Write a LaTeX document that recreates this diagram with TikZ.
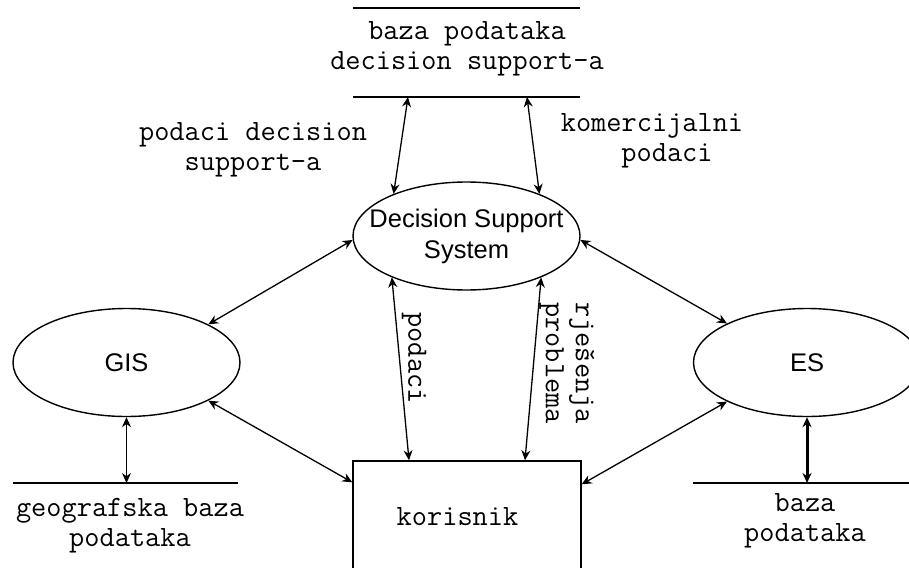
\documentclass[tikz,border=0pt]{standalone}
\usepackage{fontspec}
\setmainfont{Liberation Sans}
\usetikzlibrary{arrows.meta,shapes.geometric,calc}
\begin{document}
\begin{tikzpicture}[x=1pt,y=-1pt,
  lbl/.style={font=\ttfamily\fontsize{29.5}{30}\selectfont, align=center, inner sep=0pt},
  proc/.style={ellipse, draw, line width=1.4pt, minimum width=227pt, minimum height=108pt, inner xsep=-18pt, inner ysep=0pt, font=\fontsize{25.5}{31}\selectfont, align=center},
  conn/.style={line width=1.3pt, {Stealth[length=10pt,width=9pt]}-{Stealth[length=10pt,width=9pt]}},
  storeline/.style={line width=1.4pt}]
\useasboundingbox (0,0) rectangle (909,567);
\clip (0,0) rectangle (909,567);
% processes
\node[proc] (dss) at (466.5,236) {Decision Support\\System};
\node[proc] (gis) at (126.5,362.5) {GIS};
\node[proc] (es) at (807,362.5) {ES};
\node[draw, line width=1.4pt, minimum width=228pt, minimum height=112pt, inner sep=0pt,
      font=\ttfamily\fontsize{29.5}{30}\selectfont] (kor) at (467,517) {korisnik\hspace*{19pt}};
% data stores
\node[lbl] (dsdb) at (467,49) {baza podataka\\decision support-a};
\draw[storeline] (353,8) -- (580,8);
\draw[storeline] (353,97) -- (580,97);
\coordinate (dsdbL) at (408,97);
\coordinate (dsdbR) at (527,97);
\node[lbl] (gisdbt) at (130,526) {geografska baza\\podataka};
\draw[storeline] (13,483) -- (238,483);
\coordinate (gisdb) at (126.5,483);
\node[lbl] (esdbt) at (805,521) {baza\\podataka};
\draw[storeline] (693,483) -- (909,483);
\coordinate (esdb) at (807,483);
% connectors
\draw[conn] (dsdbL) -- (dss.150);
\draw[conn] (dsdbR) -- (dss.30);
\draw[conn] (dss.182) -- (gis.25);
\draw[conn] (dss.358) -- (es.154);
\draw[conn] (dss.209) -- ([xshift=-58pt]kor.north);
\draw[conn] (dss.331) -- ([xshift=58pt]kor.north);
\draw[conn] (gis.-25) -- ([yshift=-22pt]kor.north west);
\draw[conn] (es.206) -- ([yshift=-24pt]kor.north east);
\draw[conn] (gis.south) -- (gisdb);
\draw[conn, line width=3pt] (es.south) -- (esdb);
% labels
\node[lbl] (lpds) at (253,150) {podaci decision\\support-a};
\node[lbl] (lkom) at (652,141) {komercijalni\\\hspace*{30pt}podaci};
\node[lbl, rotate=-90] (lpod) at (414,358) {podaci};
\node[lbl, rotate=-90] (lrje) at (567,363) {rješenja\\problema};
\end{tikzpicture}
\end{document}
